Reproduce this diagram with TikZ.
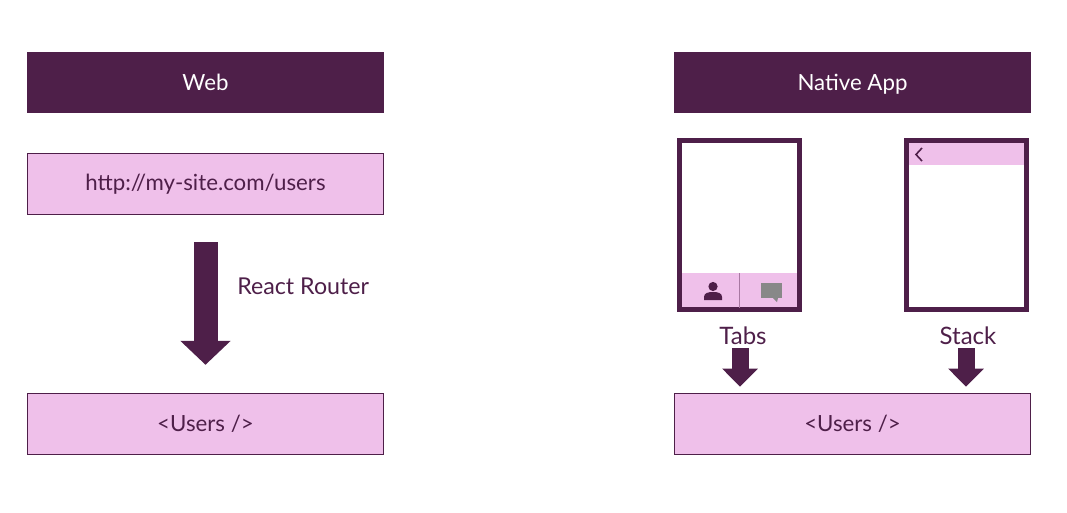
\documentclass[tikz,border=0pt]{standalone}
\usepackage{fontspec}
\setmainfont{Lato}
\usepackage{xcolor}
\usetikzlibrary{arrows.meta,positioning}
\definecolor{dfplum}{RGB}{78,31,73}
\definecolor{dfpink}{RGB}{239,192,234}
\definecolor{dfgray}{RGB}{136,136,136}
\tikzstyle{headbox} = [rectangle, minimum width=267.75pt, minimum height=45.75pt, text centered, fill=dfplum, text=white, text height=13pt, text depth=1.5pt, font=\fontsize{16.7}{20}\selectfont]
\tikzstyle{pinkbox} = [rectangle, minimum width=267pt, minimum height=45.75pt, text centered, draw=dfplum, fill=dfpink, text=dfplum, font=\fontsize{16.7}{20}\selectfont]
\tikzstyle{phone} = [rectangle, minimum width=90pt, minimum height=126.75pt, draw=dfplum, fill=white, line width=3.75pt]
\tikzstyle{tabcell} = [rectangle, minimum width=42.75pt, minimum height=25.5pt, fill=dfpink, inner sep=0pt]
\tikzstyle{tag} = [text=dfplum, font=\fontsize{16.7}{20}\selectfont]
\tikzstyle{bigarrow} = [line width=18pt, dfplum, -{Triangle[length=18pt,width=36.75pt]}]
\tikzstyle{smallarrow} = [line width=12.75pt, dfplum, -{Triangle[length=13.5pt,width=26pt]}]
\begin{document}
\begin{tikzpicture}[x=0.75pt,y=-0.75pt]
\useasboundingbox (0,0) rectangle (1067,512);
% Web side
\node[headbox] (web) at (205.5,82.5) {Web};
\node[pinkbox, below=30pt of web] (url) {http://my-site.com/users};
\node[pinkbox, below=133.5pt of url] (webusers) {<Users />};
\draw[bigarrow] ([yshift=-20.5pt]url.south) -- ([yshift=21pt]webusers.north);
\node[tag, anchor=west, inner sep=0pt, font=\fontsize{17.4}{20}\selectfont] (router) at (237,286) {React Router};

% Native side
\node[headbox] (native) at (852.5,82.5) {Native App};
\node[pinkbox, below=209.5pt of native] (appusers) {<Users />};

% Tabs phone
\node[phone] (tabsphone) at (739.5,225) {};
\node[tabcell, anchor=north west] (tabuser) at (682,273) {};
\node[tabcell, anchor=north east] (tabchat) at (797,273) {};
\draw[dfplum!45!dfpink, line width=0.75pt] (tabuser.north east) -- (tabuser.south east);
\fill[dfplum] (713,286.5) circle (4.6);
\fill[dfplum] (704,300) -- (704,297) .. controls (704,293) and (708,292) .. (713,292) .. controls (718,292) and (722,293) .. (722,297) -- (722,300) -- cycle;
\fill[dfgray] (761,283) rectangle (782,298);
\fill[dfgray] (773,298) -- (778,298) -- (777,302) -- cycle;

% Stack phone
\node[phone] (stackphone) at (966.5,225) {};
\node[rectangle, minimum width=86.25pt, minimum height=16.5pt, fill=dfpink, inner sep=0pt, anchor=north west] (stackbar) at (909,143) {};
\draw[dfplum, line width=1.2pt] (922,148) -- (916,154.5) -- (922,161);

% Labels and arrows
\node[tag, font=\fontsize{18}{21}\selectfont] (tabs) at (743,336) {Tabs};
\node[tag, font=\fontsize{18}{21}\selectfont] (stack) at (968,336) {Stack};
\coordinate (tabstip) at ([xshift=-2.25pt,yshift=4.5pt]appusers.north west -| tabs);
\coordinate (stacktip) at ([xshift=-1.5pt,yshift=4.5pt]appusers.north west -| stack);
\draw[smallarrow] ([xshift=-2.25pt,yshift=1pt]tabs.south) -- (tabstip);
\draw[smallarrow] ([xshift=-1.5pt,yshift=1pt]stack.south) -- (stacktip);
\end{tikzpicture}
\end{document}
